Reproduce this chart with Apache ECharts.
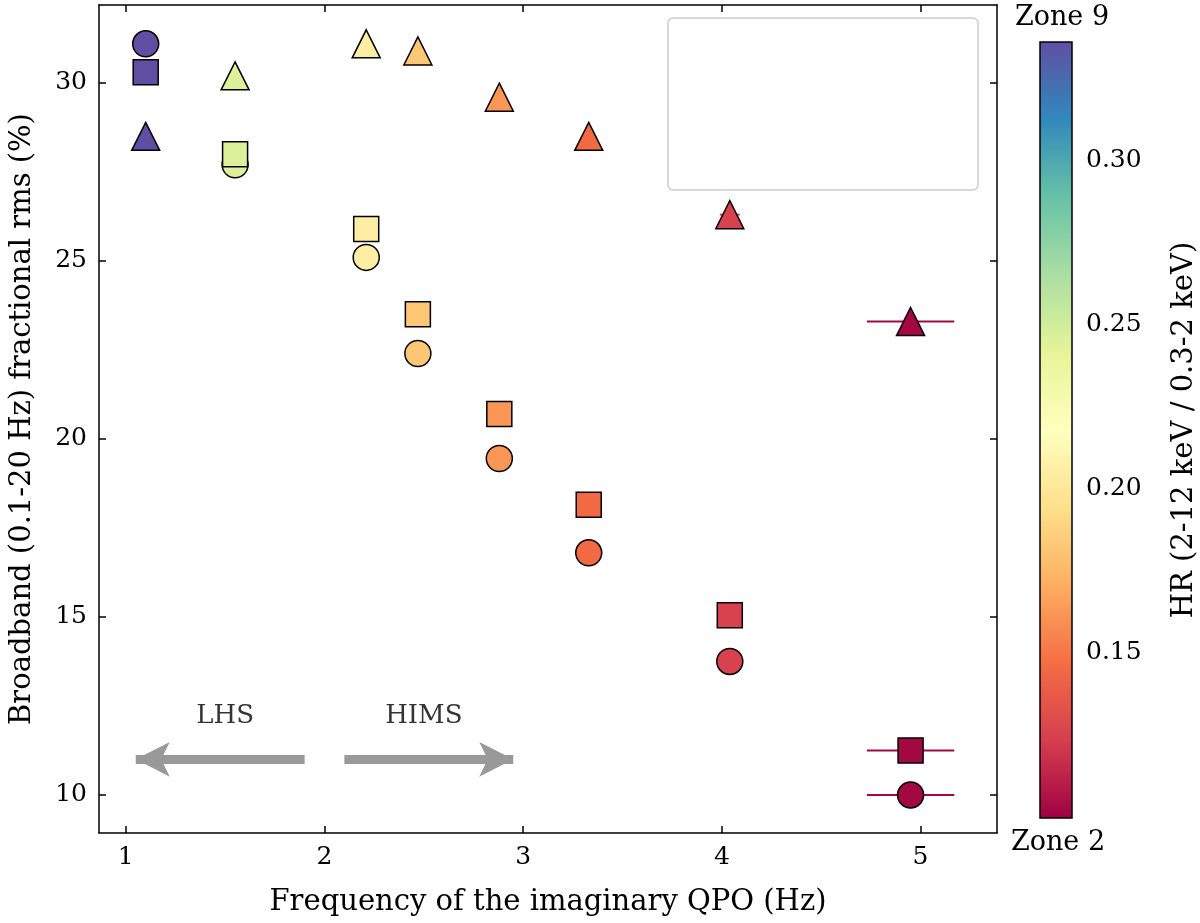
<!DOCTYPE html>
<html>
<head>
<meta charset="utf-8">
<script src="https://cdn.jsdelivr.net/npm/echarts@6/dist/echarts.min.js"></script>
<style>
  html, body { margin: 0; padding: 0; background: #fff; }
  #chart { width: 1200px; height: 923px; }
</style>
</head>
<body>
<div id="chart"></div>
<script>
/* === Data === */
const qpoFreq = [1.1, 1.55, 2.21, 2.47, 2.88, 3.33, 4.04, 4.95];
const hardness = [0.336, 0.245, 0.205, 0.182, 0.162, 0.145, 0.125, 0.102];
const rmsSoft = [31.1, 27.7, 25.1, 22.4, 19.45, 16.8, 13.75, 10.0];   // 0.3-2 keV
const rmsHard = [28.5, 30.2, 31.1, 30.9, 29.6, 28.5, 26.3, 23.3];    // 2-12 keV
const rmsFull = [30.3, 28.0, 25.9, 23.5, 20.7, 18.15, 15.05, 11.25]; // 0.3-12 keV
const errSoft = [0, 0, 0, 0, 0, 0, 0.04, 0.22];
const errHard = [0, 0, 0, 0, 0, 0, 0.05, 0.22];
const errFull = [0, 0, 0, 0, 0, 0, 0.05, 0.22];
const xTicks = [1, 2, 3, 4, 5];
const yTicks = [10, 15, 20, 25, 30];
const hrTicks = [0.15, 0.2, 0.25, 0.3];
const HR_MIN = 0.0994, HR_MAX = 0.336;

const FONT = "'DejaVu Serif', 'Liberation Serif', serif";
const SPECTRAL = ['#9e0142', '#d53e4f', '#f46d43', '#fdae61', '#fee08b', '#ffffbf',
  '#e6f598', '#abdda4', '#66c2a5', '#3288bd', '#5e4fa2'];

const pts = (ys) => qpoFreq.map((x, i) => [x, ys[i], hardness[i]]);
const errs = (ys, es) => qpoFreq.map((x, i) => [x, ys[i], hardness[i], es[i]]);

function errorBar(params, api) {
  const xe = api.value(3);
  if (!xe) return;
  const x = api.value(0), y = api.value(1);
  const a = api.coord([x - xe, y]), b = api.coord([x + xe, y]);
  return {
    type: 'line',
    shape: { x1: a[0], y1: a[1], x2: b[0], y2: b[1] },
    style: { stroke: api.visual('color'), lineWidth: 2 }
  };
}

const chart = echarts.init(document.getElementById('chart'));

const tickAxis = (extra) => Object.assign({
  type: 'value',
  axisLine: { show: true, onZero: false, lineStyle: { color: '#000', width: 1.5 } },
  axisTick: { show: true, inside: true, length: 7, lineStyle: { color: '#000', width: 1.5 } },
  axisLabel: { show: false },
  splitLine: { show: false }
}, extra);

const legendRow = (y, symbol, label) => ({
  type: 'group', z: 11,
  children: [
    { type: 'line', shape: { x1: 700, y1: y, x2: 736, y2: y }, style: { stroke: '#000', lineWidth: 1.5 } },
    { type: 'line', shape: { x1: 718, y1: y - 18, x2: 718, y2: y + 18 }, style: { stroke: '#000', lineWidth: 1.5 } },
    symbol,
    { type: 'text', x: 785, y: y, style: { text: label, font: '27px ' + FONT, fill: '#000', verticalAlign: 'middle' } }
  ]
});

chart.setOption({
  animation: false,
  grid: [
    { left: 93, right: 203, top: 5, bottom: 90 },
    { left: 1040, width: 35, top: 42, height: 776 }
  ],
  xAxis: [
    tickAxis({
      gridIndex: 0, min: 0.865, max: 5.385, position: 'bottom',
      name: 'Frequency of the imaginary QPO (Hz)', nameLocation: 'middle', nameGap: 55,
      nameTextStyle: { fontFamily: FONT, fontSize: 29, color: '#000' },
      axisTick: { show: true, inside: true, length: 7, customValues: xTicks, lineStyle: { color: '#000', width: 1.5 } },
      axisLabel: { show: true, customValues: xTicks, fontFamily: FONT, fontSize: 25, color: '#000', margin: 12 }
    }),
    tickAxis({
      gridIndex: 0, min: 0.865, max: 5.385, position: 'top',
      axisTick: { show: true, inside: true, length: 7, customValues: xTicks, lineStyle: { color: '#000', width: 1.5 } }
    }),
    { gridIndex: 1, type: 'value', min: 0, max: 1, show: false }
  ],
  yAxis: [
    tickAxis({
      gridIndex: 0, min: 8.93, max: 32.19, position: 'left',
      name: 'Broadband (0.1-20 Hz) fractional rms (%)', nameLocation: 'middle', nameGap: 62,
      nameTextStyle: { fontFamily: FONT, fontSize: 29, color: '#000' },
      axisTick: { show: true, inside: true, length: 7, customValues: yTicks, lineStyle: { color: '#000', width: 1.5 } },
      axisLabel: { show: true, customValues: yTicks, fontFamily: FONT, fontSize: 25, color: '#000', margin: 12 }
    }),
    tickAxis({
      gridIndex: 0, min: 8.93, max: 32.19, position: 'right',
      axisTick: { show: true, inside: true, length: 7, customValues: yTicks, lineStyle: { color: '#000', width: 1.5 } }
    }),
    {
      gridIndex: 1, type: 'value', min: HR_MIN, max: HR_MAX, position: 'right',
      axisLine: { show: false },
      axisTick: { show: true, length: 7, customValues: hrTicks, lineStyle: { color: '#000', width: 1.5 } },
      axisLabel: {
        customValues: hrTicks, fontFamily: FONT, fontSize: 25, color: '#000', margin: 14,
        formatter: v => v.toFixed(2)
      },
      splitLine: { show: false },
      name: 'HR (2-12 keV / 0.3-2 keV)', nameLocation: 'middle', nameGap: 98, nameRotate: 90,
      nameTextStyle: { fontFamily: FONT, fontSize: 29, color: '#000' }
    }
  ],
  visualMap: {
    show: false, type: 'continuous', dimension: 2, min: HR_MIN, max: HR_MAX,
    seriesIndex: [0, 1, 2, 3, 4, 5],
    inRange: { color: SPECTRAL }
  },
  series: [
    { type: 'custom', renderItem: errorBar, data: errs(rmsSoft, errSoft), z: 1, encode: { x: 0, y: 1 } },
    { type: 'custom', renderItem: errorBar, data: errs(rmsHard, errHard), z: 1, encode: { x: 0, y: 1 } },
    { type: 'custom', renderItem: errorBar, data: errs(rmsFull, errFull), z: 1, encode: { x: 0, y: 1 } },
    {
      name: '0.3–2 keV', type: 'scatter', symbol: 'circle', symbolSize: 26, data: pts(rmsSoft), z: 3,
      itemStyle: { opacity: 1, borderColor: '#000', borderWidth: 1.5 }
    },
    {
      name: '2–12 keV', type: 'scatter', symbol: 'triangle', symbolSize: 28, data: pts(rmsHard), z: 3,
      itemStyle: { opacity: 1, borderColor: '#000', borderWidth: 1.5 }
    },
    {
      name: '0.3–12 keV', type: 'scatter', symbol: 'rect', symbolSize: 25, data: pts(rmsFull), z: 4,
      itemStyle: { opacity: 1, borderColor: '#000', borderWidth: 1.5 }
    },
    {
      type: 'line', data: [], silent: true,
      markLine: {
        silent: true, symbol: ['none', 'arrow'], symbolSize: [26, 34],
        label: { show: false },
        lineStyle: { color: '#999', width: 9, type: 'solid' },
        data: [
          [{ coord: [1.9, 11] }, { coord: [1.05, 11] }],
          [{ coord: [2.1, 11] }, { coord: [2.95, 11] }]
        ]
      }
    },
    {
      type: 'scatter', symbolSize: 0, silent: true,
      data: [
        { value: [1.5, 12.2], name: 'LHS' },
        { value: [2.5, 12.2], name: 'HIMS' }
      ],
      label: { show: true, formatter: '{b}', position: 'inside', fontFamily: FONT, fontSize: 26, color: '#000' }
    },
    {
      type: 'custom', xAxisIndex: 2, yAxisIndex: 2, silent: true, data: [[0]],
      renderItem: (params, api) => {
        const a = api.coord([0, HR_MAX]), b = api.coord([1, HR_MIN]);
        return {
          type: 'rect',
          shape: { x: a[0], y: a[1], width: b[0] - a[0], height: b[1] - a[1] },
          style: {
            stroke: '#000', lineWidth: 1.5,
            fill: new echarts.graphic.LinearGradient(0, 1, 0, 0,
              SPECTRAL.map((c, i) => ({ offset: i / (SPECTRAL.length - 1), color: c })))
          }
        };
      }
    }
  ],
  graphic: [
    { type: 'rect', x: 668, y: 18, shape: { width: 310, height: 172, r: 5 },
      style: { fill: '#fff', stroke: '#ccc', lineWidth: 1.5 }, z: 10 },
    legendRow(52, { type: 'circle', shape: { cx: 718, cy: 52, r: 11 }, style: { fill: 'none', stroke: '#000', lineWidth: 1.5 } }, '0.3–2 keV'),
    legendRow(102, { type: 'polygon', shape: { points: [[718, 90], [730, 112], [706, 112]] }, style: { fill: 'none', stroke: '#000', lineWidth: 1.5 } }, '2–12 keV'),
    legendRow(153, { type: 'rect', shape: { x: 707, y: 142, width: 22, height: 22 }, style: { fill: 'none', stroke: '#000', lineWidth: 1.5 } }, '0.3–12 keV'),
    { type: 'text', x: 1062, y: 18, style: { text: 'Zone 9', font: '27px ' + FONT, fill: '#000', align: 'center', verticalAlign: 'middle' } },
    { type: 'text', x: 1058, y: 843, style: { text: 'Zone 2', font: '27px ' + FONT, fill: '#000', align: 'center', verticalAlign: 'middle' } }
  ]
});
</script>
</body>
</html>
